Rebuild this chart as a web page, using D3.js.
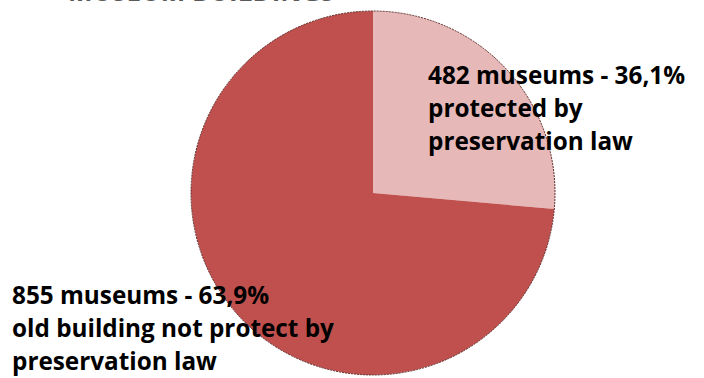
<!DOCTYPE html>
<html>
<head>
<meta charset="utf-8">
<script src="https://cdn.jsdelivr.net/npm/d3@7"></script>
<style>
  body { margin: 0; background: #fff; }
  svg { display: block; }
</style>
</head>
<body>
<div id="chart"></div>
<script>
// slice shares as drawn in the picture (the light slice covers about 95 degrees)
var categories = ['protected', 'not protected'];
var sliceShare = [26.4, 73.6];
var labelLines = [
    ['482 museums - 36,1%', 'protected by', 'preservation law'],
    ['855 museums - 63,9%', 'old building not protect by', 'preservation law']
];
var colors = ['#e6b9b8', '#c0504d'];

function init() {
    var w = 704;
    var h = 378;
    var cx = 373, cy = 193, r = 182;

    var svg = d3.select("#chart")
        .append("svg")
        .attr("width", w)
        .attr("height", h);

    // title, cut off by the top edge
    svg.append("text")
        .attr("x", 68)
        .attr("y", 1)
        .attr("font-family", "Open Sans")
        .attr("font-weight", "bold")
        .attr("font-size", "26px")
        .attr("fill", "#595959")
        .text("MUSEUM BUILDINGS");

    var pie = d3.pie()
        .sort(null)
        .value(d => d);

    var arc = d3.arc()
        .innerRadius(0)
        .outerRadius(r);

    var g = svg.append("g")
        .attr("transform", `translate(${cx},${cy})`);

    g.selectAll("path")
        .data(pie(sliceShare))
        .enter()
        .append("path")
        .attr("d", arc)
        .attr("fill", (d, i) => colors[i]);

    // thin dark outline around the pie
    g.append("circle")
        .attr("r", r)
        .attr("fill", "none")
        .attr("stroke", "#5a2a28")
        .attr("stroke-width", 1)
        .attr("stroke-dasharray", "2,1");

    var pos = [{x: 428, y: 84}, {x: 12, y: 304}];
    var lineGap = 33;

    labelLines.forEach(function(lines, k) {
        var t = svg.append("text")
            .attr("font-family", "Open Sans")
            .attr("font-weight", "bold")
            .attr("font-size", "20px")
            .attr("fill", "#000");
        lines.forEach(function(s, i) {
            t.append("tspan")
                .attr("x", pos[k].x)
                .attr("y", pos[k].y + i * lineGap)
                .text(s);
        });
        // fit the first line to the width seen in the picture
        var first = t.select("tspan").node().getComputedTextLength();
        t.attr("font-size", (20 * 257 / first).toFixed(1) + "px");
    });
}

window.onload = init;
</script>
</body>
</html>
